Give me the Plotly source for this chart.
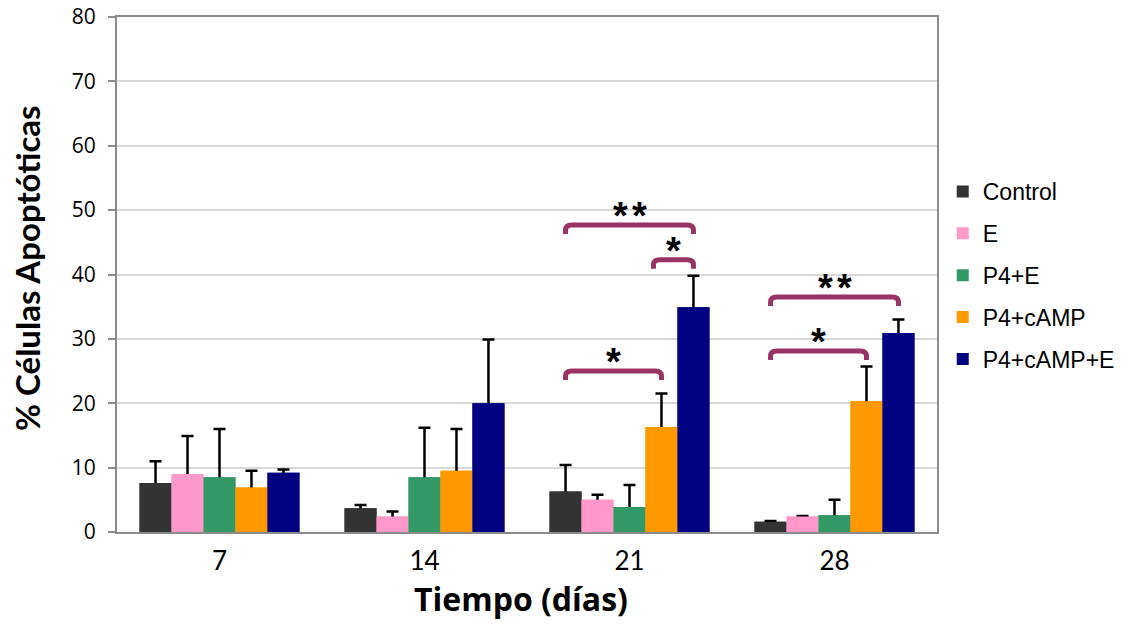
import plotly.graph_objects as go

days = ["7", "14", "21", "28"]
series_names = ["Control", "E", "P4+E", "P4+cAMP", "P4+cAMP+E"]
colors = ["#333333", "#FF99CC", "#339966", "#FF9900", "#000080"]

control = [7.6, 3.7, 6.3, 1.6]
e_vals = [9.0, 2.4, 5.0, 2.4]
p4e = [8.5, 8.5, 3.9, 2.6]
p4camp = [6.9, 9.5, 16.3, 20.3]
p4campe = [9.2, 20.0, 34.9, 30.9]

control_err = [3.4, 0.5, 4.1, 0.1]
e_err = [5.9, 0.8, 0.8, 0.1]
p4e_err = [7.5, 7.7, 3.4, 2.4]
p4camp_err = [2.6, 6.5, 5.2, 5.4]
p4campe_err = [0.5, 9.9, 4.9, 2.1]

values = [control, e_vals, p4e, p4camp, p4campe]
errors = [control_err, e_err, p4e_err, p4camp_err, p4campe_err]

# significance brackets: (day index, from bar, to bar, y level, number of stars)
brackets = [
    (2, 0, 4, 47.7, 2),
    (2, 2.75, 4, 42.3, 1),
    (2, 0, 3, 25.0, 1),
    (3, 0, 4, 36.5, 2),
    (3, 0, 3, 28.1, 1),
]

BARGAP = 0.22
NB = len(series_names)
bw = (1 - BARGAP) / NB


def bar_center(day_idx, bar_idx):
    return day_idx - (1 - BARGAP) / 2 + bw * (bar_idx + 0.5)


fig = go.Figure()
xs = list(range(len(days)))
# bars with (symmetric) error bars; the lower half is hidden by the overlaid copy
for name, col, vals, errs in zip(series_names, colors, values, errors):
    fig.add_trace(go.Bar(
        x=xs, y=vals, name=name, legendgroup=name, offsetgroup=name,
        marker=dict(color=col, line=dict(width=0)),
        error_y=dict(type="data", array=errs, color="black",
                     thickness=2.5, width=6),
    ))
for name, col, vals in zip(series_names, colors, values):
    fig.add_trace(go.Bar(
        x=xs, y=vals, name=name, legendgroup=name, offsetgroup=name,
        showlegend=False, hoverinfo="skip",
        marker=dict(color=col, line=dict(width=0)),
    ))

bcolor = "#993366"
drop = 1.4
rx = 0.03
ry = 0.8
for d, b0, b1, yv, nstars in brackets:
    x0 = bar_center(d, b0)
    x1 = bar_center(d, b1)
    path = (f"M {x0} {yv - drop} L {x0} {yv - ry} Q {x0} {yv} {x0 + rx} {yv} "
            f"L {x1 - rx} {yv} Q {x1} {yv} {x1} {yv - ry} L {x1} {yv - drop}")
    fig.add_shape(type="path", path=path, xref="x", yref="y",
                  line=dict(color=bcolor, width=5), layer="above")
    for k in range(nstars):
        fig.add_annotation(x=(x0 + x1) / 2, y=yv, xref="x", yref="y",
                           text="<b>*</b>", showarrow=False,
                           yanchor="middle", yshift=9,
                           xshift=(k - (nstars - 1) / 2) * 19,
                           font=dict(family="Liberation Sans", size=38, color="black"))

# axis titles
fig.add_annotation(xref="paper", yref="paper", x=0, y=0.5126,
                   xshift=-90, text="<b>% Células Apoptóticas</b>",
                   showarrow=False, textangle=-90,
                   xanchor="center", yanchor="middle",
                   font=dict(family="Lato", size=33, color="black"))
fig.add_annotation(xref="paper", yref="paper", x=(521 - 117) / 820, y=0,
                   yshift=-66, text="<b>Tiempo (días)</b>", showarrow=False,
                   xanchor="center", yanchor="middle",
                   font=dict(family="Open Sans", size=32, color="black"))

fig.update_layout(
    width=1134, height=625,
    margin=dict(l=117, r=197, t=17, b=93, autoexpand=False),
    paper_bgcolor="white", plot_bgcolor="white",
    barmode="group", bargap=BARGAP, bargroupgap=0,
    legend=dict(x=1.007, y=0.703, xanchor="left", yanchor="top",
                font=dict(family="Liberation Sans", size=23, color="black"),
                tracegroupgap=9, itemsizing="constant",
                bgcolor="rgba(0,0,0,0)"),
    showlegend=True,
)
fig.update_xaxes(
    range=[-0.5, 3.5], tickvals=xs, ticktext=days, automargin=False,
    tickfont=dict(family="Lato", size=26, color="black"),
    ticklabelstandoff=5, ticklabeloverflow="allow",
    showline=True, linecolor="#8c8c8c", linewidth=2, mirror=True,
    showgrid=False, ticks="", zeroline=False,
)
fig.update_yaxes(
    range=[0, 80], dtick=10, automargin=False,
    tickfont=dict(family="Open Sans", size=21, color="black"),
    ticklabelstandoff=8, ticklabeloverflow="allow",
    showline=True, linecolor="#8c8c8c", linewidth=2, mirror=True,
    showgrid=True, gridcolor="#d9d9d9", gridwidth=1.5,
    ticks="outside", ticklen=7, tickcolor="#8c8c8c", tickwidth=1.5,
    zeroline=False,
)

fig.write_html("out.html",
               config={"displayModeBar": False},
               post_script="document.body.style.margin='0';")
